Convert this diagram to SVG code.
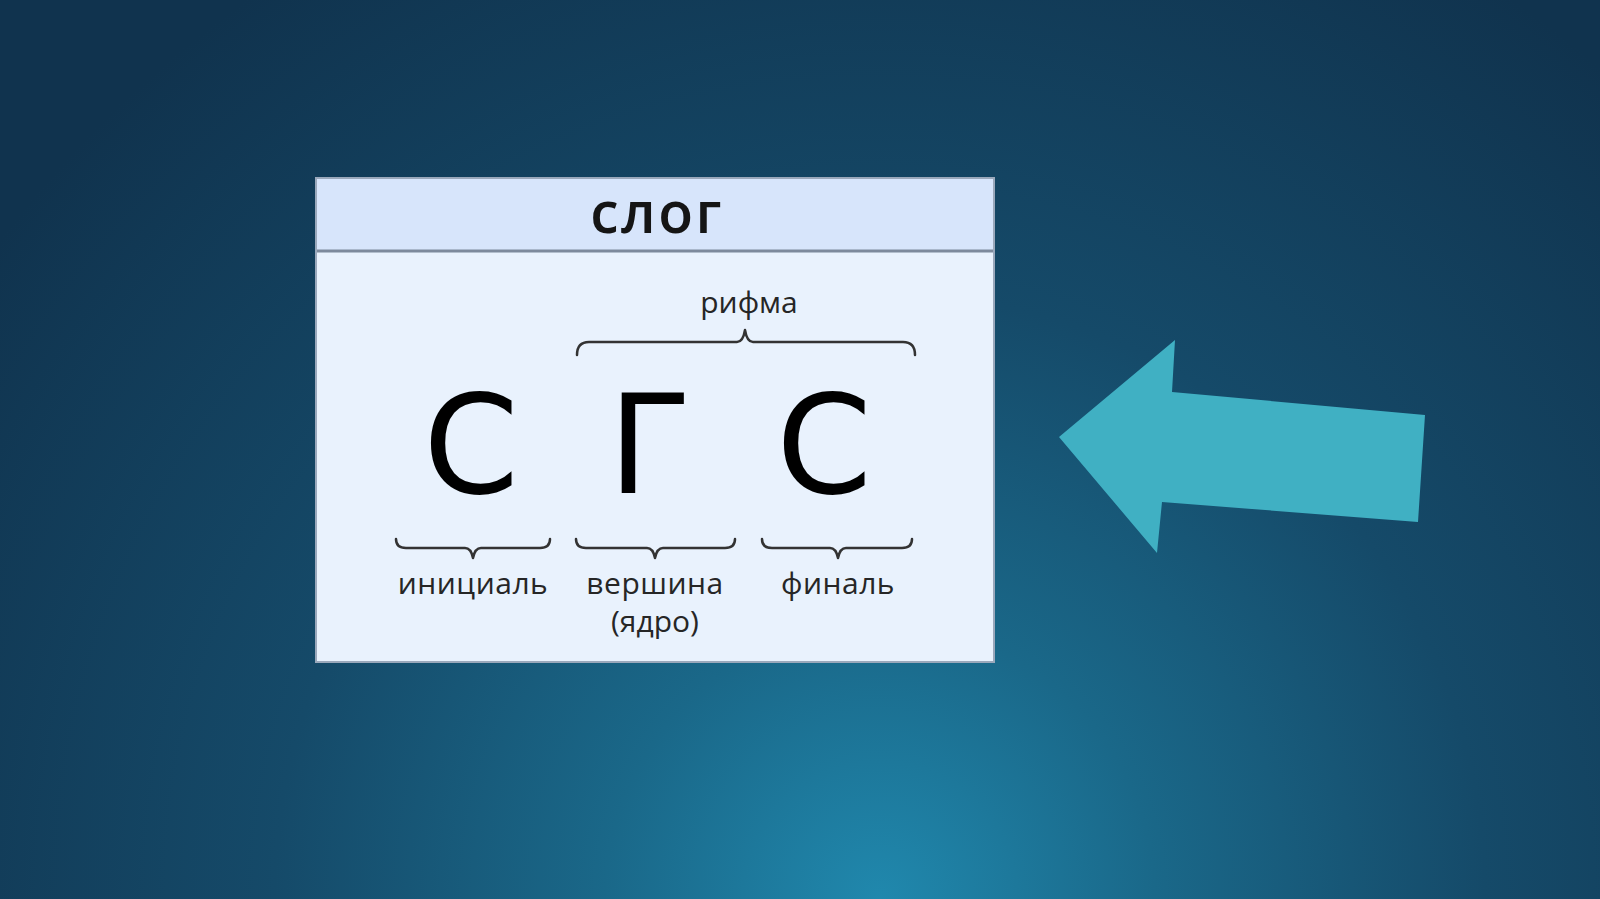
<svg xmlns="http://www.w3.org/2000/svg" width="1600" height="899" viewBox="0 0 1600 899">
<defs>
<radialGradient id="bg" cx="880" cy="899" r="1100" gradientUnits="userSpaceOnUse">
<stop offset="0" stop-color="#2088ad"/>
<stop offset="0.25" stop-color="#1a6889"/>
<stop offset="0.55" stop-color="#154a69"/>
<stop offset="1" stop-color="#10334e"/>
</radialGradient>
<style>
.t{font-family:"Open Sans","DejaVu Sans",sans-serif;text-anchor:middle}
.big{font-family:"DejaVu Sans","Open Sans",sans-serif;font-size:137px;fill:#000}
.lbl{font-size:30px;font-weight:500;fill:#262626}
.brace{fill:none;stroke:#333;stroke-width:2.5;stroke-linecap:round;stroke-linejoin:round}
</style>
</defs>
<rect width="1600" height="899" fill="url(#bg)"/>
<g id="syllable-box">
<rect x="316" y="178" width="678" height="484" fill="#e9f2fd" stroke="#9aa8bb" stroke-width="2"/>
<rect x="317" y="179" width="676" height="71" fill="#d7e5fb"/>
<line x1="317" y1="251" x2="993" y2="251" stroke="#7d8a9c" stroke-width="3"/>
<text class="t" x="657" y="233" font-size="57" font-weight="600" letter-spacing="2.5" fill="#151515">слог</text>
</g>
<g id="letters">
<text class="t big" x="471" y="493">С</text>
<text class="t big" x="650" y="493">Г</text>
<text class="t big" x="824" y="493">С</text>
</g>
<g id="connectors">
<path class="brace" stroke="#555" d="M577,355 q0,-13 12,-13 H737 q6,0 8,-12 q2,12 8,12 H903 q12,0 12,13"/>
<path class="brace" d="M396,539 q0,9 10,9 H465 q6,0 8,10 q2,-10 8,-10 H540 q10,0 10,-9"/>
<path class="brace" d="M576,539 q0,9 10,9 H647 q6,0 8,10 q2,-10 8,-10 H725 q10,0 10,-9"/>
<path class="brace" d="M762,539 q0,9 10,9 H830 q6,0 8,10 q2,-10 8,-10 H902 q10,0 10,-9"/>
</g>
<g id="labels">
<text class="t lbl" x="749" y="313">рифма</text>
<text class="t lbl" x="473" y="594" letter-spacing="0.5">инициаль</text>
<text class="t lbl" x="655" y="594" letter-spacing="0.5">вершина</text>
<text class="t lbl" x="655" y="632">(ядро)</text>
<text class="t lbl" x="838" y="594" letter-spacing="0.5">финаль</text>
</g>
<g id="arrow">
<polygon points="1059,437 1175,340 1172,392 1425,415 1418,522 1162,502 1157,553" fill="#40b0c3"/>
</g>
</svg>
